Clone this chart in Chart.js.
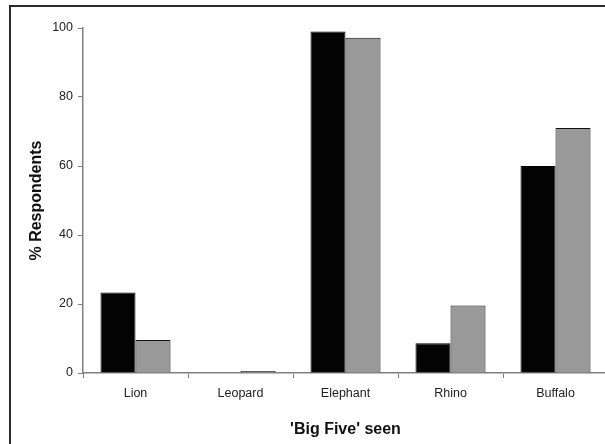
<!DOCTYPE html>
<html>
<head>
<meta charset="utf-8">
<script src="https://cdn.jsdelivr.net/npm/chart.js@4.4.1/dist/chart.umd.min.js"></script>
<style>
  html, body { margin: 0; padding: 0; background: #fff; overflow: hidden; width: 605px; height: 444px; }
  #frame { position: absolute; left: 9px; top: 5px; width: 700px; height: 600px; border: 2px solid #2a2a2a; box-sizing: border-box; }
  #c { position: absolute; left: 0; top: 0; }
</style>
</head>
<body>
<div id="frame"></div>
<canvas id="c" width="640" height="444"></canvas>
<script>
const categories = ['Lion', 'Leopard', 'Elephant', 'Rhino', 'Buffalo'];
const seriesBlack = [23.3, 0, 99.0, 8.6, 60.0];
const seriesGrey = [9.6, 0.6, 97.2, 19.6, 71.0];
const yTicks = [0, 20, 40, 60, 80, 100];
const xTitle = "'Big Five' seen";
const yTitle = '% Respondents';

const tickFont = { family: "'Liberation Sans', Arial, sans-serif", size: 12.5 };
const titleFont = { family: "'Liberation Sans', Arial, sans-serif", size: 16, weight: 'bold' };

new Chart(document.getElementById('c'), {
  type: 'bar',
  data: {
    labels: categories,
    datasets: [
      { data: seriesBlack, backgroundColor: '#030303', borderColor: '#000000', borderWidth: 1 },
      { data: seriesGrey, backgroundColor: '#999999', borderColor: '#111111', borderWidth: 1 }
    ]
  },
  options: {
    responsive: false,
    animation: false,
    devicePixelRatio: 1,
    layout: { padding: { left: 0, top: 28, right: 32, bottom: 0 } },
    plugins: { legend: { display: false }, tooltip: { enabled: false } },
    datasets: { bar: { categoryPercentage: 0.667, barPercentage: 1.0 } },
    scales: {
      x: {
        grid: { display: true, drawOnChartArea: false, drawTicks: true, tickLength: 5, color: '#808080', offset: true },
        border: { display: true, color: '#808080', width: 1.5 },
        ticks: { color: '#222', font: tickFont, padding: 8, maxRotation: 0 },
        title: { display: true, text: xTitle, color: '#111', font: titleFont, padding: { top: 0, bottom: 5 } },
        afterFit: (s) => { s.height = 71; }
      },
      y: {
        min: 0, max: 100,
        grid: { display: true, drawOnChartArea: false, drawTicks: true, tickLength: 5, color: '#808080' },
        border: { display: true, color: '#808080', width: 1.5 },
        afterBuildTicks: (s) => { s.ticks = yTicks.map(v => ({ value: v })); },
        ticks: { color: '#222', font: tickFont, padding: 5 },
        title: { display: true, text: yTitle, color: '#111', font: titleFont, padding: { top: 27, bottom: 0 } },
        afterFit: (s) => { s.width = 83; }
      }
    }
  }
});
</script>
</body>
</html>
